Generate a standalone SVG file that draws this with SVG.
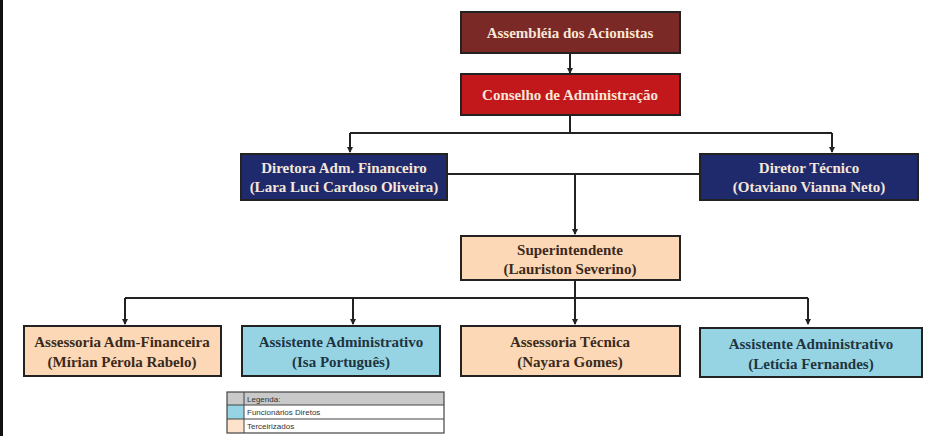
<svg xmlns="http://www.w3.org/2000/svg" width="933" height="436" viewBox="0 0 933 436">
<defs>
<marker id="arr" markerWidth="6" markerHeight="6" refX="5" refY="3" orient="auto" markerUnits="userSpaceOnUse">
<path d="M0,0 L6,3 L0,6 z" fill="#222"/>
</marker>
<style>
.bx{stroke:#222;stroke-width:2}
.t{font-family:"Liberation Serif","DejaVu Serif",serif;font-weight:bold;font-size:15px;text-anchor:middle}
.w{fill:#f6e6d8}
.d{fill:#3b2a1c}
.b{fill:#1e3440}
.c{fill:none;stroke:#222;stroke-width:2}
.lg{font-family:"Liberation Sans",Arial,sans-serif;font-size:8px;fill:#333}
</style>
</defs>
<rect x="0" y="0" width="933" height="436" fill="#ffffff"/>
<rect x="0" y="0" width="3" height="436" fill="#111"/>
<g id="connectors">
<path class="c" d="M570,53 V73" marker-end="url(#arr)"/>
<path class="c" d="M570,115 V133 M350,133 H832"/>
<path class="c" d="M350,133 V152" marker-end="url(#arr)"/>
<path class="c" d="M832,133 V152" marker-end="url(#arr)"/>
<path class="c" d="M447,174 H700"/>
<path class="c" d="M575,174 V234" marker-end="url(#arr)"/>
<path class="c" d="M575,280 V298 M125,298 H808"/>
<path class="c" d="M125,298 V324" marker-end="url(#arr)"/>
<path class="c" d="M353,298 V324" marker-end="url(#arr)"/>
<path class="c" d="M575,298 V324" marker-end="url(#arr)"/>
<path class="c" d="M808,298 V324" marker-end="url(#arr)"/>
</g>
<g id="assembleia">
<rect class="bx" x="461" y="12" width="219" height="41" fill="#7a2926"/>
<text class="t w" x="570" y="38">Assembléia dos Acionistas</text>
</g>
<g id="conselho">
<rect class="bx" x="461" y="74" width="219" height="41" fill="#c2171b"/>
<text class="t w" x="570" y="100">Conselho de Administração</text>
</g>
<g id="diretora">
<rect class="bx" x="241" y="154" width="206" height="46" fill="#1f2a6c"/>
<text class="t w" x="344" y="173">Diretora Adm. Financeiro</text>
<text class="t w" x="344" y="192">(Lara Luci Cardoso Oliveira)</text>
</g>
<g id="diretor">
<rect class="bx" x="700" y="154" width="218" height="46" fill="#1f2a6c"/>
<text class="t w" x="809" y="173">Diretor Técnico</text>
<text class="t w" x="809" y="192">(Otaviano Vianna Neto)</text>
</g>
<g id="superintendente">
<rect class="bx" x="461" y="236" width="219" height="44" fill="#fcd8b6"/>
<text class="t d" x="570" y="255">Superintendente</text>
<text class="t d" x="570" y="274">(Lauriston Severino)</text>
</g>
<g id="assessoria-adm">
<rect class="bx" x="24" y="326" width="197" height="50" fill="#fcd8b6"/>
<text class="t d" x="122" y="347">Assessoria Adm-Financeira</text>
<text class="t d" x="122" y="367">(Mírian Pérola Rabelo)</text>
</g>
<g id="assistente-isa">
<rect class="bx" x="242" y="326" width="198" height="50" fill="#96d4e4"/>
<text class="t b" x="341" y="347">Assistente Administrativo</text>
<text class="t b" x="341" y="367">(Isa Português)</text>
</g>
<g id="assessoria-tecnica">
<rect class="bx" x="461" y="326" width="219" height="50" fill="#fcd8b6"/>
<text class="t d" x="570" y="347">Assessoria Técnica</text>
<text class="t d" x="570" y="367">(Nayara Gomes)</text>
</g>
<g id="assistente-leticia">
<rect class="bx" x="700" y="328" width="222" height="49" fill="#96d4e4"/>
<text class="t b" x="811" y="349">Assistente Administrativo</text>
<text class="t b" x="811" y="369">(Letícia Fernandes)</text>
</g>
<g id="legenda">
<rect x="227" y="392" width="217" height="13" fill="#c9c9c9"/>
<rect x="227" y="405" width="217" height="14" fill="#ffffff"/>
<rect x="227" y="419" width="217" height="14" fill="#ffffff"/>
<rect x="227" y="405" width="17" height="14" fill="#96d4e4"/>
<rect x="227" y="419" width="17" height="14" fill="#fde3cc"/>
<rect x="227" y="392" width="217" height="41" fill="none" stroke="#444" stroke-width="1.2"/>
<path d="M244,392 V433 M227,405 H444 M227,419 H444" stroke="#444" stroke-width="1" fill="none"/>
<text class="lg" x="247" y="402">Legenda:</text>
<text class="lg" x="247" y="415">Funcionários Diretos</text>
<text class="lg" x="247" y="429">Terceirizados</text>
</g>
</svg>
